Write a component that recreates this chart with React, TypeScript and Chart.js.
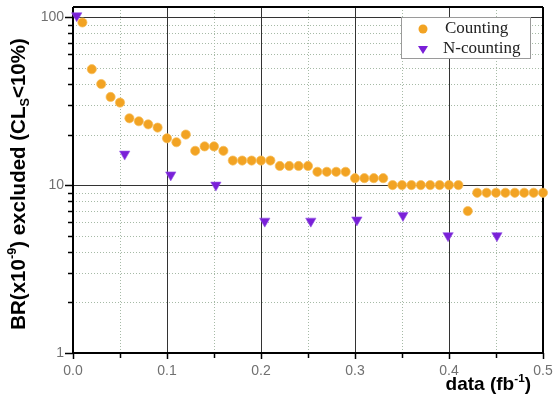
import React, { useEffect, useRef } from "react";
import { Chart, registerables } from "chart.js";
Chart.register(...registerables);

const countingLabel = "Counting";
const nCountingLabel = "N-counting";

const countingX = [
  0.01, 0.02, 0.03, 0.04, 0.05, 0.06, 0.07, 0.08, 0.09, 0.1,
  0.11, 0.12, 0.13, 0.14, 0.15, 0.16, 0.17, 0.18, 0.19, 0.2,
  0.21, 0.22, 0.23, 0.24, 0.25, 0.26, 0.27, 0.28, 0.29, 0.3,
  0.31, 0.32, 0.33, 0.34, 0.35, 0.36, 0.37, 0.38, 0.39, 0.4,
  0.41, 0.42, 0.43, 0.44, 0.45, 0.46, 0.47, 0.48, 0.49, 0.5,
];
const countingY = [
  93, 49, 40, 33.5, 31, 25, 24, 23, 22, 19,
  18, 20, 16, 17, 17, 16, 14, 14, 14, 14,
  14, 13, 13, 13, 13, 12, 12, 12, 12, 11,
  11, 11, 11, 10, 10, 10, 10, 10, 10, 10,
  10, 7, 9, 9, 9, 9, 9, 9, 9, 9,
];

const nCountingX = [0.004, 0.055, 0.104, 0.152, 0.204, 0.253, 0.302, 0.351, 0.399, 0.451];
const nCountingY = [102, 15.3, 11.5, 10.0, 6.1, 6.1, 6.2, 6.6, 5.0, 5.0];

const xTickLabels = [0, 0.1, 0.2, 0.3, 0.4, 0.5];
const xMinorValues = [0.05, 0.15, 0.25, 0.35, 0.45];
const yTickLabels = [1, 10, 100];
const yMinorValues = [2, 3, 4, 5, 6, 7, 8, 9, 20, 30, 40, 50, 60, 70, 80, 90];

const ORANGE = "#f2a323";
const PURPLE = "#7a20d8";
const SANS = "'Liberation Sans', Arial, sans-serif";
const SERIF = "'Liberation Serif', 'Times New Roman', serif";

type Seg = { t: string; m?: "sup" | "sub" };

function drawRich(ctx: CanvasRenderingContext2D, segs: Seg[], x: number, y: number, size: number, align: "center" | "right") {
  const font = (s: number) => `bold ${s}px ${SANS}`;
  const small = size * 0.62;
  let total = 0;
  for (const s of segs) {
    ctx.font = font(s.m ? small : size);
    total += ctx.measureText(s.t).width;
  }
  let cx = align === "center" ? x - total / 2 : x - total;
  ctx.textBaseline = "alphabetic";
  ctx.textAlign = "left";
  for (const s of segs) {
    ctx.font = font(s.m ? small : size);
    let dy = 0;
    if (s.m === "sup") dy = -size * 0.42;
    if (s.m === "sub") dy = size * 0.2;
    ctx.fillText(s.t, cx, y + dy);
    cx += ctx.measureText(s.t).width;
  }
}

const decorPlugin = {
  id: "decor",
  beforeDatasetsDraw(chart: any) {
    const { ctx, chartArea: a, scales } = chart;
    const xs = scales.x;
    const ys = scales.y;
    const px = (v: number) => Math.round(xs.getPixelForValue(v)) + 0.5;
    const py = (v: number) => Math.round(ys.getPixelForValue(v)) + 0.5;
    const line = (x1: number, y1: number, x2: number, y2: number) => {
      ctx.beginPath();
      ctx.moveTo(x1, y1);
      ctx.lineTo(x2, y2);
      ctx.stroke();
    };
    ctx.save();
    // minor dotted grid
    ctx.strokeStyle = "#a6baa6";
    ctx.lineWidth = 1;
    ctx.setLineDash([1, 2]);
    for (const v of xMinorValues) line(px(v), a.top, px(v), a.bottom);
    for (const v of yMinorValues) line(a.left, py(v), a.right, py(v));
    ctx.setLineDash([]);
    // major grid
    ctx.strokeStyle = "#333";
    ctx.lineWidth = 1;
    for (const v of xTickLabels) {
      if (v > 0 && v < 0.5) line(px(v), a.top, px(v), a.bottom);
    }
    for (const v of yTickLabels) {
      if (v > 1) line(a.left, py(v), a.right, py(v));
    }
    // frame
    ctx.strokeStyle = "#000";
    ctx.lineWidth = 2;
    line(a.left, a.top, a.right, a.top);
    line(a.right, a.top, a.right, a.bottom);
    line(a.left, a.top, a.left, a.bottom + 1);
    line(a.left - 1, a.bottom, a.right + 1, a.bottom);
    // ticks
    ctx.lineWidth = 1.5;
    for (const v of xTickLabels) line(px(v), a.bottom, px(v), a.bottom + 6);
    for (const v of xMinorValues) line(px(v), a.bottom, px(v), a.bottom + 5);
    for (const v of yTickLabels) line(a.left - 8, py(v), a.left, py(v));
    for (const v of yMinorValues) line(a.left - 5, py(v), a.left, py(v));
    ctx.restore();
  },
  afterDraw(chart: any) {
    const { ctx } = chart;
    ctx.save();
    ctx.fillStyle = "#000";
    // y title
    ctx.save();
    ctx.translate(25, 184);
    ctx.rotate(-Math.PI / 2);
    drawRich(ctx, [{ t: "BR(x10" }, { t: "-9", m: "sup" }, { t: ") excluded (CL" }, { t: "S", m: "sub" }, { t: "<10%)" }], 0, 0, 20.5, "center");
    ctx.restore();
    // x title
    drawRich(ctx, [{ t: "data (fb" }, { t: "-1", m: "sup" }, { t: ")" }], 531, 390, 19, "right");
    // legend
    const ds = chart.data.datasets;
    const bx = 401, by = 17, bw = 129, bh = 41;
    ctx.fillStyle = "#fff";
    ctx.fillRect(bx, by, bw, bh);
    ctx.strokeStyle = "#9a9a9a";
    ctx.lineWidth = 1;
    ctx.strokeRect(bx + 0.5, by + 0.5, bw, bh);
    ctx.font = `17px ${SERIF}`;
    ctx.textBaseline = "middle";
    ctx.textAlign = "left";
    // entry 1
    ctx.fillStyle = ORANGE;
    ctx.beginPath();
    ctx.arc(423, 29, 4.5, 0, Math.PI * 2);
    ctx.fill();
    ctx.fillStyle = "#222";
    ctx.fillText(ds[0].label, 445, 29);
    // entry 2
    ctx.fillStyle = PURPLE;
    ctx.beginPath();
    ctx.moveTo(418, 46);
    ctx.lineTo(428, 46);
    ctx.lineTo(423, 54);
    ctx.closePath();
    ctx.fill();
    ctx.fillStyle = "#222";
    ctx.fillText(ds[1].label, 443, 49);
    ctx.restore();
  },
};

export default function App() {
  const ref = useRef<HTMLCanvasElement | null>(null);
  useEffect(() => {
    document.body.style.margin = "0";
    const canvas = ref.current!;
    const chart = new Chart(canvas, {
      type: "scatter",
      data: {
        datasets: [
          {
            label: countingLabel,
            data: countingX.map((x, i) => ({ x, y: countingY[i] })),
            pointStyle: "circle",
            pointRadius: 4.6,
            backgroundColor: ORANGE,
            borderColor: "rgba(246,190,90,0.7)",
            borderWidth: 1,
            clip: false,
          },
          {
            label: nCountingLabel,
            data: nCountingX.map((x, i) => ({ x, y: nCountingY[i] })),
            pointStyle: "triangle",
            rotation: 180,
            pointRadius: 6,
            backgroundColor: PURPLE,
            borderColor: "rgba(150,90,230,0.6)",
            borderWidth: 1,
            clip: false,
          },
        ],
      },
      plugins: [decorPlugin],
      options: {
        animation: false,
        responsive: false,
        devicePixelRatio: 1,
        layout: { padding: { left: 0, top: 5, right: 10, bottom: 0 } },
        plugins: { legend: { display: false }, tooltip: { enabled: false } },
        scales: {
          x: {
            type: "linear",
            min: 0,
            max: 0.5,
            grid: { display: false, drawTicks: false, tickLength: 0 },
            border: { display: false },
            afterBuildTicks: (s: any) => {
              s.ticks = xTickLabels.map((v) => ({ value: v }));
            },
            afterFit: (s: any) => {
              s.height = 45;
              s.paddingLeft = 0;
              s.paddingRight = 0;
              s.paddingTop = 0;
              s.paddingBottom = 0;
            },
            ticks: {
              autoSkip: false,
              maxRotation: 0,
              padding: 10,
              color: "#707070",
              font: { family: SANS, size: 14 },
              callback: (v: any) => Number(v).toFixed(1),
            },
          },
          y: {
            type: "logarithmic",
            min: 1,
            max: 115,
            grid: { display: false, drawTicks: false, tickLength: 0 },
            border: { display: false },
            afterBuildTicks: (s: any) => {
              s.ticks = yTickLabels.map((v) => ({ value: v }));
            },
            afterFit: (s: any) => {
              s.width = 73;
              s.paddingLeft = 0;
              s.paddingRight = 0;
              s.paddingTop = 0;
              s.paddingBottom = 0;
            },
            ticks: {
              autoSkip: false,
              padding: 9,
              color: "#707070",
              font: { family: SANS, size: 14 },
              callback: (v: any) => String(v),
            },
          },
        },
      },
    } as any);
    return () => chart.destroy();
  }, []);
  return (
    <div style={{ width: 553, height: 398 }}>
      <canvas ref={ref} width={553} height={398} style={{ display: "block" }} />
    </div>
  );
}
